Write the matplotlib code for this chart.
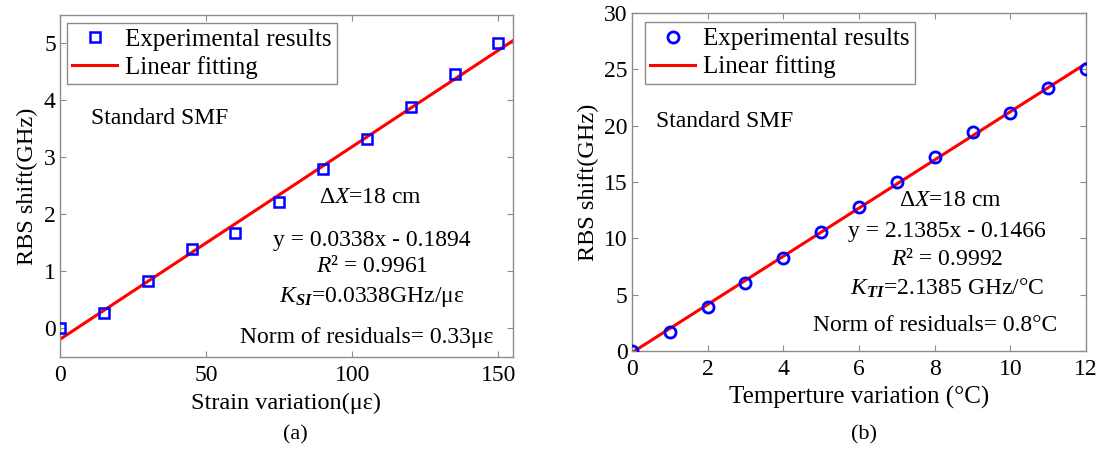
import matplotlib
matplotlib.use("Agg")
import matplotlib.pyplot as plt
import numpy as np

plt.rcParams['font.family'] = ['Liberation Serif', 'DejaVu Serif']
plt.rcParams['mathtext.fontset'] = 'custom'
plt.rcParams['mathtext.rm'] = 'Liberation Serif'
plt.rcParams['mathtext.it'] = 'Liberation Serif:italic'
plt.rcParams['mathtext.bf'] = 'Liberation Serif:bold'
plt.rcParams['mathtext.bfit'] = 'Liberation Serif:italic:bold'

# ---- data (a) strain ----
strain_x = [0, 15, 30, 45, 60, 75, 90, 105, 120, 135, 150]
strain_y = [0.0, 0.27, 0.83, 1.39, 1.68, 2.22, 2.79, 3.33, 3.89, 4.46, 5.0]
strain_slope = 0.0338
strain_icpt = -0.1894

# ---- data (b) temperature ----
temp_x = [0, 1, 2, 3, 4, 5, 6, 7, 8, 9, 10, 11, 12]
temp_y = [0.0, 1.69, 3.91, 6.04, 8.29, 10.52, 12.74, 14.96, 17.24, 19.46, 21.09, 23.31, 25.0]
temp_slope = 2.1385
temp_icpt = -0.1466

fig = plt.figure(figsize=(11.01, 4.49), dpi=100)
axA = fig.add_axes([0.0545, 0.2049, 0.4114, 0.7617])
axB = fig.add_axes([0.574, 0.2183, 0.4124, 0.7528])

TICK = 17
LAB = 17.5
TXT = 17
LEG = 18
spine_col = '#8c8c8c'

def style(ax):
    for s in ax.spines.values():
        s.set_color(spine_col)
        s.set_linewidth(1.0)
    ax.tick_params(direction='in', top=True, right=True, length=4, width=0.8,
                   color=spine_col, labelsize=TICK, labelcolor='black')
    ax.tick_params(axis='x', pad=6)
    ax.tick_params(axis='y', pad=3)

def legend(ax, anchor):
    leg = ax.legend(loc='upper left', bbox_to_anchor=anchor, fontsize=LEG,
                    frameon=True, fancybox=False, edgecolor=spine_col, framealpha=1,
                    borderpad=0.22, handlelength=1.8, handletextpad=0.3,
                    labelspacing=0.2, borderaxespad=0)
    leg.get_frame().set_linewidth(1.0)
    return leg

# (a)
xf = np.array([0, 155])
axA.plot(strain_x, strain_y, 's', mfc='none', mec='#0000ff', mew=1.8, ms=7.5,
         label='Experimental results', zorder=3)
axA.plot(xf, strain_slope * xf + strain_icpt, '-', color='#ff0000', lw=2.2,
         label='Linear fitting', zorder=2)
axA.set_xlim(0, 155)
axA.set_ylim(-0.5, 5.5)
axA.set_xticks([0, 50, 100, 150])
axA.set_yticks([0, 1, 2, 3, 4, 5])
style(axA)
axA.set_xlabel('Strain variation(με)', fontsize=LAB, labelpad=5)
axA.set_ylabel('RBS shift(GHz)', fontsize=LAB, labelpad=4)
legend(axA, (0.015, 0.977))
axA.text(10.6, 3.68, 'Standard SMF', fontsize=TXT, ha='left', va='center')
axA.text(106.3, 2.29, 'Δ$X$=18 cm', fontsize=TXT, ha='center', va='center')
axA.text(106.8, 1.55, 'y = 0.0338x - 0.1894', fontsize=TXT, ha='center', va='center')
axA.text(106.8, 1.08, '$R$² = 0.9961', fontsize=TXT, ha='center', va='center')
axA.text(106.8, 0.56, r'$K_{\mathbfit{SI}}$=0.0338GHz/με', fontsize=TXT, ha='center', va='center')
axA.text(105, -0.15, 'Norm of residuals= 0.33με', fontsize=TXT, ha='center', va='center')
fig.text(0.268, 0.031, '(a)', fontsize=16, ha='center', va='center')

# (b)
xt = np.array([0, 12])
axB.plot(temp_x, temp_y, 'o', mfc='none', mec='#0000ff', mew=2.0, ms=8,
         label='Experimental results', zorder=3)
axB.plot(xt, temp_slope * xt + temp_icpt, '-', color='#ff0000', lw=2.2,
         label='Linear fitting', zorder=2)
axB.set_xlim(0, 12)
axB.set_ylim(0, 30)
axB.set_xticks([0, 2, 4, 6, 8, 10, 12])
axB.set_yticks([0, 5, 10, 15, 20, 25, 30])
style(axB)
axB.set_xlabel('Temperture variation (°C)', fontsize=18, labelpad=4)
axB.set_ylabel('RBS shift(GHz)', fontsize=LAB, labelpad=4)
legend(axB, (0.028, 0.972))
axB.text(0.63, 20.4, 'Standard SMF', fontsize=TXT, ha='left', va='center')
axB.text(8.43, 13.4, 'Δ$X$=18 cm', fontsize=TXT, ha='center', va='center')
axB.text(8.32, 10.6, 'y = 2.1385x - 0.1466', fontsize=TXT, ha='center', va='center')
axB.text(8.32, 8.08, '$R$² = 0.9992', fontsize=TXT, ha='center', va='center')
axB.text(8.32, 5.6, r'$K_{\mathbfit{TI}}$=2.1385 GHz/°C', fontsize=TXT, ha='center', va='center')
axB.text(8.0, 2.3, 'Norm of residuals= 0.8°C', fontsize=TXT, ha='center', va='center')
fig.text(0.785, 0.031, '(b)', fontsize=16, ha='center', va='center')

fig.savefig('out.png', dpi=100)
